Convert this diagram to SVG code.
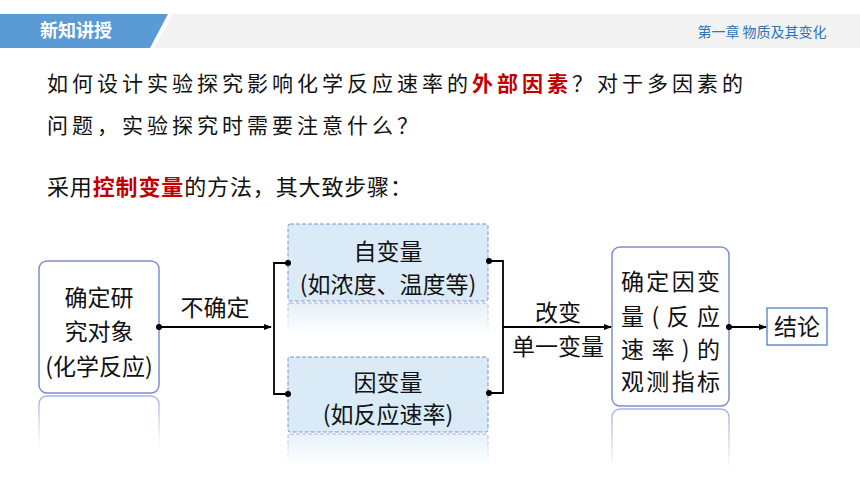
<svg xmlns="http://www.w3.org/2000/svg" width="860" height="484" viewBox="0 0 860 484">
<style>
.cjk{font-family:"Noto Sans CJK SC","Noto Sans",sans-serif;}
.t22{font-size:23px;fill:#111;}
.box{fill:#fff;stroke:#7F8FCB;stroke-width:1.5;}
.dbox{fill:#DAEBF7;stroke:#7F8FD0;stroke-width:1;stroke-dasharray:4 2;}
.conn{stroke:#000;stroke-width:1.8;fill:none;}
.dot{fill:#000;}
.red{fill:#C00000;font-weight:bold;}
</style>
<defs>
<marker id="arr" markerWidth="8" markerHeight="8" refX="7" refY="4" orient="auto" markerUnits="userSpaceOnUse">
<path d="M0,1 L8,4 L0,7 Z" fill="#000"/>
</marker>
<linearGradient id="fade" x1="0" y1="0" x2="0" y2="1">
<stop offset="0" stop-color="#fff" stop-opacity="0.7"/>
<stop offset="1" stop-color="#fff" stop-opacity="0"/>
</linearGradient>
<mask id="m1" maskContentUnits="userSpaceOnUse"><rect x="30" y="394" width="140" height="52" fill="url(#fade)"/></mask>
<mask id="m2" maskContentUnits="userSpaceOnUse"><rect x="280" y="302" width="220" height="34" fill="url(#fade)"/></mask>
<mask id="m3" maskContentUnits="userSpaceOnUse"><rect x="280" y="433" width="220" height="32" fill="url(#fade)"/></mask>
<mask id="m4" maskContentUnits="userSpaceOnUse"><rect x="605" y="407" width="130" height="62" fill="url(#fade)"/></mask>
</defs>
<rect width="860" height="484" fill="#fff"/>
<g id="header">
<polygon points="173,14 860,14 860,48 154,48" fill="#F2F2F2"/>
<polygon points="0,14 168,14 150,48 0,48" fill="#5B9BD5"/>
<text x="76" y="37" class="cjk" font-size="18" font-weight="bold" fill="#fff" text-anchor="middle">新知讲授</text>
<text x="762" y="37" class="cjk" font-size="14" fill="#2E75B6" text-anchor="middle">第一章 物质及其变化</text>
</g>
<g id="question">
<text x="47" y="91" class="cjk" font-size="21" fill="#111" letter-spacing="4">如何设计实验探究影响化学反应速率的<tspan class="red">外部因素</tspan>？对于多因素的</text>
<text x="47" y="133" class="cjk" font-size="21" fill="#111" letter-spacing="4">问题，实验探究时需要注意什么？</text>
<text x="47" y="195" class="cjk" font-size="22" fill="#111" textLength="365" lengthAdjust="spacing">采用<tspan class="red">控制变量</tspan>的方法，其大致步骤：</text>
</g>
<g id="node-object">
<rect class="box" x="39" y="261" width="120" height="132" rx="8"/>
<g mask="url(#m1)"><rect class="box" x="39" y="396" width="120" height="132" rx="8"/></g>
<text class="cjk t22" x="99" y="306" text-anchor="middle">确定研</text>
<text class="cjk t22" x="99" y="340" text-anchor="middle">究对象</text>
<text class="cjk t22" x="99" y="375" text-anchor="middle">(化学反应)</text>
</g>
<g id="node-independent">
<rect class="dbox" x="288" y="224" width="200" height="77" rx="2"/>
<g mask="url(#m2)"><rect class="dbox" x="288" y="303" width="200" height="77" rx="2"/></g>
<text class="cjk t22" x="388" y="260" text-anchor="middle">自变量</text>
<text class="cjk t22" x="388" y="293" text-anchor="middle">(如浓度、温度等)</text>
</g>
<g id="node-dependent">
<rect class="dbox" x="288" y="357" width="200" height="75" rx="2"/>
<g mask="url(#m3)"><rect class="dbox" x="288" y="434" width="200" height="75" rx="2"/></g>
<text class="cjk t22" x="388" y="391" text-anchor="middle">因变量</text>
<text class="cjk t22" x="388" y="423" text-anchor="middle">(如反应速率)</text>
</g>
<g id="node-measure">
<rect class="box" x="612" y="247" width="117" height="159" rx="8"/>
<g mask="url(#m4)"><rect class="box" x="612" y="409" width="117" height="159" rx="8"/></g>
<text class="cjk t22" x="621" y="290" textLength="99" lengthAdjust="spacing">确定因变</text>
<text class="cjk t22" x="621" y="325" textLength="99" lengthAdjust="spacing">量(反应</text>
<text class="cjk t22" x="621" y="358" textLength="99" lengthAdjust="spacing">速率)的</text>
<text class="cjk t22" x="621" y="390" textLength="99" lengthAdjust="spacing">观测指标</text>
</g>
<g id="node-conclusion">
<rect x="767" y="308" width="60" height="37" fill="#fff" stroke="#4472C4" stroke-width="1.2"/>
<text class="cjk t22" x="797" y="335" text-anchor="middle">结论</text>
</g>
<g id="connectors">
<line class="conn" x1="159" y1="327" x2="271" y2="327" marker-end="url(#arr)"/>
<circle class="dot" cx="159" cy="327" r="3"/>
<text class="cjk t22" x="215" y="316" text-anchor="middle">不确定</text>
<polyline class="conn" points="288,263 274,263 274,394 288,394"/>
<circle class="dot" cx="288" cy="263" r="3"/>
<circle class="dot" cx="288" cy="394" r="3"/>
<polyline class="conn" points="489,261 503,261 503,393 489,393"/>
<circle class="dot" cx="489" cy="261" r="3"/>
<circle class="dot" cx="489" cy="393" r="3"/>
<line class="conn" x1="503" y1="327" x2="611" y2="327" marker-end="url(#arr)"/>
<text class="cjk t22" x="558" y="321" text-anchor="middle">改变</text>
<text class="cjk t22" x="558" y="355" text-anchor="middle">单一变量</text>
<line class="conn" x1="729" y1="327" x2="766" y2="327" marker-end="url(#arr)"/>
<circle class="dot" cx="729" cy="327" r="3"/>
</g>
</svg>
